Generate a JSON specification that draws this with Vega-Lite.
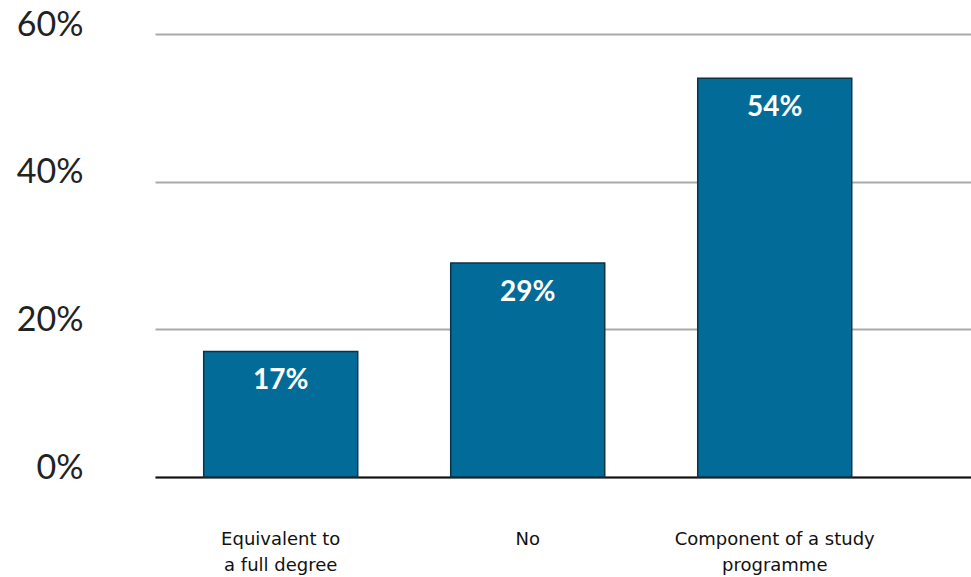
{
  "$schema": "https://vega.github.io/schema/vega-lite/v6.json",
  "width": 816,
  "height": 443,
  "autosize": {"type": "none"},
  "padding": {"left": 155, "top": 34, "right": 0, "bottom": 100},
  "background": "white",
  "config": {"view": {"stroke": null}, "font": "Lato"},
  "data": {"values": [
    {"category": "Equivalent to a full degree", "value": 17, "label": "17%"},
    {"category": "No", "value": 29, "label": "29%"},
    {"category": "Component of a study programme", "value": 54, "label": "54%"}
  ]},
  "encoding": {
    "x": {
      "field": "category", "type": "nominal", "sort": null,
      "scale": {"paddingInner": 0.3765, "paddingOuter": 0.34, "align": 0.29},
      "axis": {
        "title": null, "labelAngle": 0, "ticks": false,
        "domainColor": "#111", "domainWidth": 2,
        "labelFont": "DejaVu Sans", "labelFontSize": 18, "labelColor": "#111",
        "labelPadding": 53, "labelLineHeight": 26, "labelBaseline": "top",
        "labelLimit": 400,
        "labelExpr": "datum.value == 'Equivalent to a full degree' ? ['Equivalent to', 'a full degree'] : datum.value == 'Component of a study programme' ? ['Component of a study', 'programme'] : datum.value"
      }
    },
    "y": {
      "field": "value", "type": "quantitative",
      "scale": {"domain": [0, 60]},
      "axis": {
        "title": null, "values": [0, 20, 40, 60], "domain": false, "ticks": false,
        "labelExpr": "datum.value + '%'",
        "labelFont": "Lato", "labelFontSize": 34, "labelColor": "#222",
        "labelPadding": 72, "labelOffset": -9,
        "gridColor": "#aaaaaa", "gridWidth": 2
      }
    }
  },
  "layer": [
    {"mark": {"type": "bar", "color": "#036b97", "stroke": "#0b3346", "strokeWidth": 1.5}},
    {"mark": {"type": "text", "color": "white", "fontWeight": "bold", "fontSize": 28, "dy": 30, "baseline": "middle", "font": "Lato"},
     "encoding": {"text": {"field": "label"}}}
  ]
}
